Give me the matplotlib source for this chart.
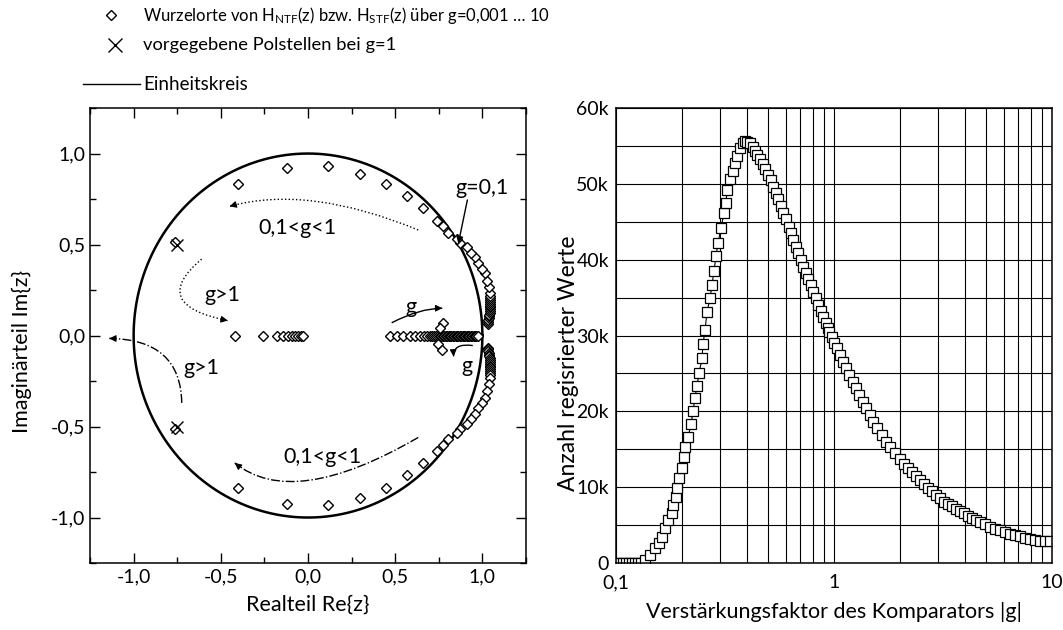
import numpy as np
import matplotlib
matplotlib.use("Agg")
import matplotlib.pyplot as plt
from matplotlib.lines import Line2D
from matplotlib.path import Path
from matplotlib.patches import PathPatch
from matplotlib.ticker import MultipleLocator, FuncFormatter, FixedLocator, NullFormatter

plt.rcParams['font.family'] = ['Lato', 'DejaVu Sans']
plt.rcParams['font.size'] = 15.5
plt.rcParams['xtick.labelsize'] = 14
plt.rcParams['ytick.labelsize'] = 14

# ---- DATA: root locus (left) ----
# complex branch, upper half plane (lower half is its mirror), g = 0.001 ... 1
arc_re = [1.030, 1.032, 1.034, 1.036, 1.038, 1.040, 1.041, 1.042, 1.043, 1.044,
          1.045, 1.046, 1.046, 1.046, 1.046, 1.046, 1.046,
          1.040, 1.029, 1.017, 1.000, 0.977, 0.960, 0.937, 0.914, 0.874, 0.856,
          0.805, 0.776, 0.741, 0.661, 0.569, 0.448, 0.299, 0.115, -0.121, -0.402, -0.76]
arc_im = [0.066, 0.075, 0.085, 0.095, 0.105, 0.115, 0.125, 0.135, 0.145, 0.155,
          0.165, 0.175, 0.185, 0.195, 0.205, 0.218, 0.231,
          0.264, 0.302, 0.341, 0.368, 0.396, 0.429, 0.456, 0.484, 0.511, 0.533,
          0.566, 0.604, 0.632, 0.703, 0.769, 0.835, 0.890, 0.929, 0.923, 0.835, 0.515]

# real roots on the axis
real_left = [-0.42, -0.259, -0.178, -0.144, -0.115, -0.092, -0.075, -0.057, -0.042, -0.030]
real_right = [0.47, 0.51, 0.546, 0.586, 0.615, 0.644, 0.667, 0.684, 0.700, 0.712,
              0.724, 0.735, 0.745, 0.755, 0.764, 0.773, 0.782, 0.790, 0.798, 0.806,
              0.814, 0.822, 0.830, 0.838, 0.846, 0.854, 0.862, 0.870, 0.878, 0.886,
              0.894, 0.902, 0.910, 0.918, 0.926, 0.934, 0.942, 0.950, 0.958, 0.966, 0.975]
# small complex pair splitting off the real axis
split_re = [0.776, 0.759, 0.747, 0.770]
split_im = [0.071, 0.044, -0.044, -0.082]

poles_re = [-0.75, -0.75]
poles_im = [0.5, -0.5]

# ---- DATA: histogram of |g| (right) ----
g_vals = [0.1011, 0.1043, 0.1077, 0.1111, 0.1147, 0.1184, 0.1222, 0.1261, 0.1302, 0.1358,
          0.1432, 0.1510, 0.1575, 0.1626, 0.1678, 0.1732, 0.1806, 0.1826, 0.1884, 0.1904,
          0.1945, 0.2008, 0.2051, 0.2073, 0.2140, 0.2208, 0.2255, 0.2303, 0.2352, 0.2403,
          0.2480, 0.2507, 0.2560, 0.2615, 0.2699, 0.2756, 0.2815, 0.2875, 0.2937, 0.3031,
          0.3129, 0.3196, 0.3230, 0.3334, 0.3441, 0.3515, 0.3589, 0.3705, 0.3825, 0.3906,
          0.3989, 0.4118, 0.4250, 0.4341, 0.4434, 0.4577, 0.4724, 0.4826, 0.4981, 0.5140,
          0.5251, 0.5420, 0.5536, 0.5714, 0.5837, 0.6025, 0.6219, 0.6353, 0.6488, 0.6697,
          0.6840, 0.7060, 0.7211, 0.7443, 0.7601, 0.7846, 0.8014, 0.8271, 0.8448, 0.8720,
          0.8906, 0.9192, 0.9387, 0.9487, 0.9791, 1.000, 1.032, 1.065, 1.100, 1.135,
          1.172, 1.222, 1.262, 1.302, 1.358, 1.402, 1.463, 1.510, 1.575, 1.661,
          1.732, 1.806, 1.905,
          2.008, 2.095, 2.185, 2.279, 2.378, 2.480, 2.587, 2.699, 2.815, 2.937,
          3.063, 3.196, 3.334, 3.477, 3.627, 3.784, 3.947, 4.118, 4.295, 4.481,
          4.674, 4.928, 5.195, 5.477, 5.773, 6.087, 6.417, 6.766, 7.133, 7.520,
          7.927, 8.356, 8.810, 9.288, 9.79]
counts = [0, 0, 0, 0, 0, 0, 0, 0, 0, 400,
          1055, 2000, 2640, 3430, 4600, 5700, 6600, 7650, 8700, 9900,
          11200, 12500, 14000, 15300, 16600, 18300, 20000, 21800, 23400, 25000,
          27000, 28900, 30700, 33100, 34900, 36700, 38500, 40500, 42200, 44200,
          46200, 47500, 49200, 50600, 51700, 52700, 53700, 54700, 55400, 55600,
          55500, 55400, 54900, 54300, 53800, 53300, 52600, 52000, 51200, 50500,
          49600, 48800, 48000, 47100, 46200, 45400, 44300, 43500, 42600, 41700,
          40900, 40000, 39000, 38200, 37400, 36700, 35700, 34900, 34000, 33200,
          32400, 31600, 31000, 30500, 29800, 29000, 28400, 27400, 26500, 25700,
          24800, 23900, 23100, 22200, 21200, 20400, 19500, 18600, 17800, 16900,
          16000, 15300, 14500,
          13700, 13050, 12550, 12050, 11500, 10950, 10450, 9950, 9500, 9000,
          8550, 8100, 7800, 7500, 7150, 6850, 6550, 6250, 5900, 5650,
          5400, 5100, 4800, 4550, 4300, 4100, 3850, 3650, 3500, 3350,
          3200, 3050, 2950, 2900, 2900]

fig = plt.figure(figsize=(10.63, 6.30), dpi=100)
ax1 = fig.add_axes([0.0847, 0.1063, 0.4101, 0.7222])
ax2 = fig.add_axes([0.5795, 0.1063, 0.4102, 0.7222])

# ---------------- left: root locus ----------------
dia = dict(linestyle='none', marker='D', markersize=5.5, markerfacecolor='white',
           markeredgecolor='k', markeredgewidth=1.0)
t = np.linspace(0, 2 * np.pi, 400)
ax1.plot(np.cos(t), np.sin(t), color='k', lw=1.8, zorder=1)
ax1.plot(arc_re, arc_im, **dia)
ax1.plot(arc_re, [-v for v in arc_im], **dia)
ax1.plot(real_left, np.zeros(len(real_left)), **dia)
ax1.plot(real_right, np.zeros(len(real_right)), **dia)
ax1.plot(split_re, split_im, **dia)
ax1.plot(poles_re, poles_im, linestyle='none', marker='x', markersize=9,
         markeredgewidth=1.0, color='k')


def curve(ax, p0, c, p1, ls):
    path = Path([p0, c, p1], [Path.MOVETO, Path.CURVE3, Path.CURVE3])
    ax.add_patch(PathPatch(path, fill=False, lw=1.0, ls=ls, color='k'))
    d = np.array(p1) - np.array(c)
    d = d / np.hypot(*d) * 0.03
    ax.annotate('', xy=p1, xytext=(p1[0] - d[0], p1[1] - d[1]),
                arrowprops=dict(arrowstyle='-|>', color='k', lw=0.8, mutation_scale=10,
                                shrinkA=0, shrinkB=0))


curve(ax1, (0.632, 0.58), (0.0, 0.83), (-0.45, 0.71), ':')
curve(ax1, (0.632, -0.56), (-0.086, -0.96), (-0.42, -0.70), '-.')
curve(ax1, (-0.61, 0.42), (-0.92, 0.17), (-0.46, 0.082), ':')
curve(ax1, (-0.724, -0.37), (-0.73, -0.02), (-1.14, -0.016), '-.')
curve(ax1, (0.48, 0.07), (0.64, 0.15), (0.77, 0.15), '-')
curve(ax1, (0.945, -0.055), (0.83, -0.04), (0.835, -0.115), '-')
ax1.annotate('', xy=(0.862, 0.505), xytext=(0.914, 0.745),
             arrowprops=dict(arrowstyle='-|>', color='k', lw=1.0, mutation_scale=10,
                             shrinkA=0, shrinkB=0))

ax1.text(1.0, 0.81, 'g=0,1', ha='center', va='center')
ax1.text(-0.06, 0.59, '0,1<g<1', ha='center', va='center')
ax1.text(0.08, -0.67, '0,1<g<1', ha='center', va='center')
ax1.text(-0.49, 0.22, 'g>1', ha='center', va='center')
ax1.text(-0.61, -0.18, 'g>1', ha='center', va='center')
ax1.text(0.59, 0.155, 'g', ha='center', va='center')
ax1.text(0.91, -0.17, 'g', ha='center', va='center')

ax1.set_xlim(-1.25, 1.25)
ax1.set_ylim(-1.25, 1.25)
fmt = FuncFormatter(lambda v, p: ('%.1f' % (0.0 if abs(v) < 1e-9 else v)).replace('.', ','))
for a in (ax1.xaxis, ax1.yaxis):
    a.set_major_locator(MultipleLocator(0.5))
    a.set_minor_locator(MultipleLocator(0.25))
    a.set_major_formatter(fmt)
ax1.tick_params(which='both', direction='in', top=True, right=True, width=1.0)
ax1.tick_params(which='major', length=7)
ax1.tick_params(which='minor', length=4)
ax1.set_xlabel('Realteil Re{z}', labelpad=7)
ax1.set_ylabel('Imaginärteil Im{z}')
ax1.yaxis.set_label_coords(-0.133, 0.464)

# ---------------- right: histogram ----------------
ax2.plot(g_vals, counts, color='k', lw=0.8, marker='s', markersize=6.8,
         markerfacecolor='white', markeredgecolor='k', markeredgewidth=0.9)
ax2.set_xscale('log')
ax2.set_xlim(0.1, 10)
ax2.set_ylim(0, 60000)
ax2.xaxis.set_major_locator(FixedLocator([0.1, 1, 10]))
ax2.xaxis.set_major_formatter(FuncFormatter(lambda v, p: {0.1: '0,1', 1: '1', 10: '10'}.get(round(v, 3), '')))
ax2.xaxis.set_minor_locator(FixedLocator([0.2, 0.3, 0.4, 0.5, 0.6, 0.7, 0.8, 0.9,
                                          2, 3, 4, 5, 6, 7, 8, 9]))
ax2.xaxis.set_minor_formatter(NullFormatter())
ax2.yaxis.set_major_locator(MultipleLocator(10000))
ax2.yaxis.set_minor_locator(MultipleLocator(5000))
ax2.yaxis.set_major_formatter(FuncFormatter(lambda v, p: '0' if v == 0 else '%dk' % (v / 1000)))
ax2.grid(which='both', color='k', lw=0.8)
ax2.set_axisbelow(True)
ax2.tick_params(which='both', direction='in', length=0)
ax2.tick_params(axis='y', pad=5)
ax2.tick_params(axis='x', pad=8)
ax2.set_xlabel('Verstärkungsfaktor des Komparators |g|', labelpad=8)
ax2.set_ylabel('Anzahl regisrierter Werte', fontsize=16.5)
ax2.yaxis.set_label_coords(-0.085, 0.44)

for a in (ax1, ax2):
    for s in a.spines.values():
        s.set_linewidth(1.1)

# ---------------- legend ----------------
fig.add_artist(Line2D([111 / 1063], [1 - 15 / 630], marker='D', markersize=5.5,
                      markerfacecolor='white', markeredgecolor='k', markeredgewidth=1.0,
                      transform=fig.transFigure))
fig.text(143 / 1063, 1 - 15 / 630,
         r'Wurzelorte von $\mathregular{H_{NTF}}$(z) bzw. $\mathregular{H_{STF}}$(z) über g=0,001 … 10',
         va='center', ha='left', fontsize=12)
fig.add_artist(Line2D([115 / 1063], [1 - 45 / 630], marker='x', markersize=10,
                      markeredgewidth=1.0, color='k', transform=fig.transFigure))
fig.text(143 / 1063, 1 - 45 / 630, 'vorgegebene Polstellen bei g=1', va='center', ha='left',
         fontsize=13.2)
fig.add_artist(Line2D([83 / 1063, 140 / 1063], [1 - 84 / 630, 1 - 84 / 630], color='k',
                      lw=1.0, transform=fig.transFigure))
fig.text(143 / 1063, 1 - 84 / 630, 'Einheitskreis', va='center', ha='left', fontsize=13.5)

fig.savefig('out.png', dpi=100)
